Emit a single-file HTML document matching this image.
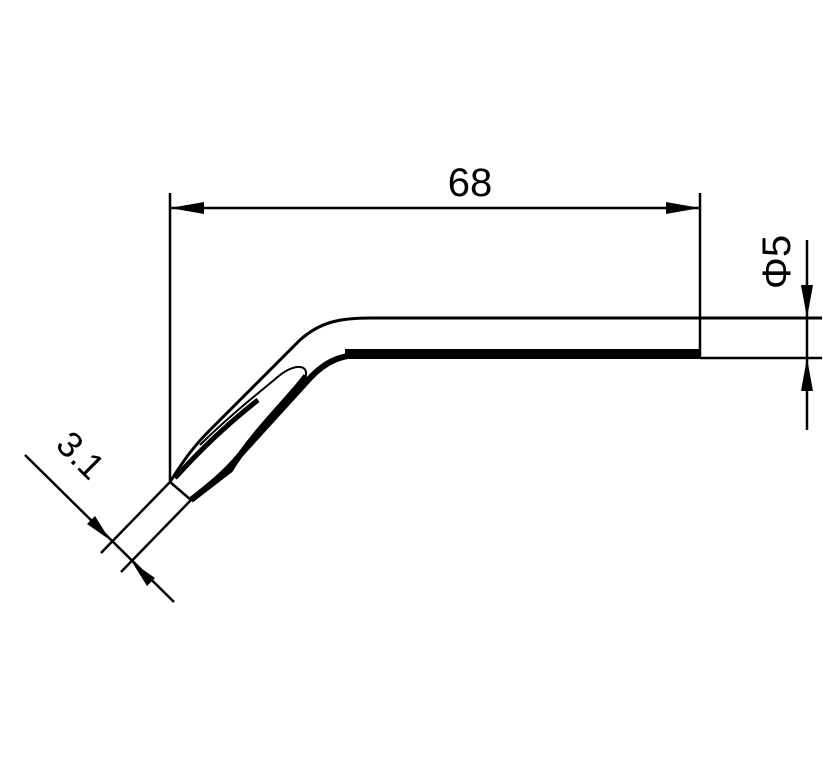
<!DOCTYPE html>
<html><head><style>body{margin:0;background:#fff}svg{display:block}</style></head><body>
<svg width="823" height="766" viewBox="0 0 823 766" xmlns="http://www.w3.org/2000/svg">
<g stroke="#000" fill="none" stroke-width="2.5">
<line x1="170" y1="193" x2="170" y2="482"/>
<line x1="700" y1="193" x2="700" y2="358"/>
<line x1="170" y1="208" x2="700" y2="208"/>
<path d="M170,482 C185,458 195,445 210,430 L300,340 C320,322 340,318 370,318 L822,318" stroke-width="3"/>
<path d="M191,500 C210,485 225,473 240,455 L310,378 C325,362 340,354 370,354 L700,354" stroke-width="6"/>
<path d="M345,354 L700,354" stroke-width="10"/>
<path d="M306,376 C290,398 255,430 230,470 L191,500" stroke-width="6"/>
<path d="M200,445 C230,415 260,392 280,375 C297,362 310,366 305,378 C300,388 295,395 285,400" stroke-width="2"/>
<path d="M175,478 C200,450 230,422 258,400" stroke-width="5"/>
<line x1="700" y1="358" x2="822" y2="358"/>
<line x1="170" y1="482" x2="191" y2="500"/>
<line x1="170" y1="482" x2="101" y2="553"/>
<line x1="191" y1="500" x2="121" y2="572"/>
<line x1="25" y1="455" x2="174" y2="602"/>
<line x1="807" y1="240" x2="807" y2="430"/>
</g>
<g fill="#000">
<polygon points="170,208 204,202 204,214"/>
<polygon points="700,208 666,202 666,214"/>
<polygon points="807,318 801,285 813,285"/>
<polygon points="807,358 801,391 813,391"/>
<polygon points="110,540 87,524 95,516"/>
<polygon points="132,562 155,578 147,586"/>
</g>
<text x="470" y="196" font-family="Liberation Sans, sans-serif" font-size="40" text-anchor="middle">68</text>
<text transform="translate(790,262) rotate(-90)" font-family="Liberation Sans, sans-serif" font-size="40" text-anchor="middle">Φ5</text>
<text transform="translate(72,464) rotate(45)" font-family="Liberation Sans, sans-serif" font-size="36" text-anchor="middle">3.1</text>
</svg>
</body></html>
